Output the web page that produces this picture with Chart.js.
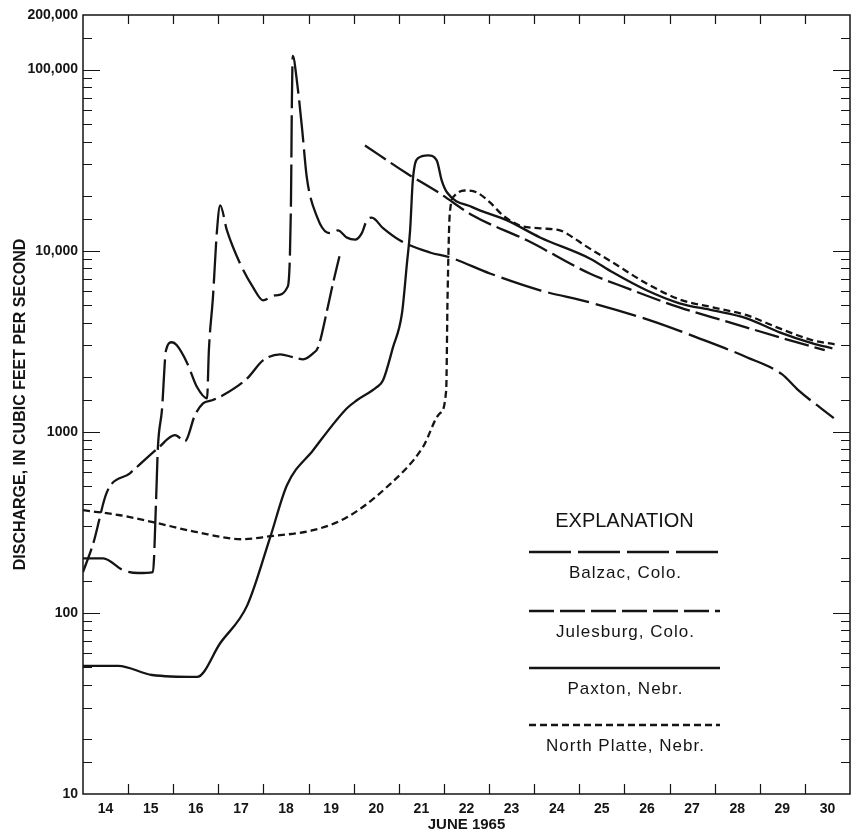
<!DOCTYPE html>
<html>
<head>
<meta charset="utf-8">
<title>Discharge, June 1965</title>
<script src="https://cdn.jsdelivr.net/npm/chart.js@4"></script>
<style>
  body { margin: 0; background: #fff; }
  canvas { display: block; }
</style>
</head>
<body>
<canvas id="dischargeChart" width="851" height="835"></canvas>
<script>
// --- data (day of June 1965, cfs) ---
const balzacDays = [14.00, 14.45, 14.89, 15.22, 15.55, 15.62, 15.66, 15.75, 15.84, 15.97, 16.08, 16.31, 16.53, 16.75, 16.79, 16.88, 16.97, 17.04, 17.19, 17.48, 17.77, 17.99, 18.26, 18.54, 18.61, 18.63, 18.65, 18.74, 18.86, 18.96, 19.19, 19.41, 19.52, 19.65, 19.85, 20.03, 20.18, 20.29, 20.40, 20.65, 21.02, 21.69, 22.13, 23.02, 24.13, 25.23, 26.57, 27.60, 28.71, 29.49, 29.84, 30.64];
const balzacCfs = [200, 200, 172, 166, 168, 420, 820, 1320, 2820, 3120, 3000, 2390, 1760, 1530, 2820, 5520, 12950, 17780, 12950, 8510, 6270, 5320, 5660, 6350, 18900, 67500, 119000, 86900, 46000, 25400, 15300, 12600, 12500, 12950, 11800, 11500, 12500, 14700, 15200, 13300, 11400, 9770, 9180, 7480, 6040, 5180, 4120, 3320, 2580, 2080, 1710, 1190];

const julesburgDays = [14.00, 14.23, 14.53, 15.04, 15.66, 16.04, 16.26, 16.48, 16.66, 16.86, 17.10, 17.64, 17.99, 18.37, 18.66, 18.88, 19.10, 19.21, 19.41, 19.54, 19.70, 19.98, 20.25, 21.18, 21.91, 22.64, 23.84, 25.23, 26.07, 27.22, 28.33, 29.44, 30.44];
const julesburgCfs = [168, 243, 464, 590, 811, 957, 887, 1233, 1435, 1492, 1589, 1972, 2479, 2678, 2577, 2512, 2710, 2924, 4680, 6590, 9660, null, 38100, 26680, 20700, 15630, 11400, 7480, 6190, 4860, 4020, 3320, 2820];

const paxtonDays = [14.00, 14.78, 15.53, 16.53, 17.04, 17.64, 18.15, 18.52, 19.10, 19.85, 20.07, 20.51, 20.65, 20.87, 21.07, 21.18, 21.25, 21.31, 21.42, 21.65, 21.84, 21.95, 22.07, 22.64, 23.40, 24.13, 25.23, 25.74, 26.49, 27.22, 27.96, 28.71, 29.44, 30.17, 30.61];
const paxtonCfs = [51, 51, 45.4, 44.3, 68, 110, 262, 507, 791, 1349, 1492, 1762, 1923, 2924, 4510, 8510, 12950, 24430, 32280, 33570, 31500, 24430, 20940, 17340, 14690, 11830, 9060, 7590, 6040, 5120, 4680, 4230, 3540, 3080, 2890];

const northPlatteDays = [14.00, 14.82, 15.55, 16.53, 17.55, 18.15, 19.10, 19.85, 20.73, 21.53, 21.91, 22.05, 22.08, 22.13, 22.24, 22.46, 22.73, 23.02, 23.31, 23.68, 24.13, 24.57, 24.86, 25.12, 25.74, 26.49, 27.22, 27.96, 28.71, 29.44, 30.17, 30.66];
const northPlatteCfs = [369, 346, 317, 279, 255, 265, 286, 337, 494, 820, 1265, 1694, 5520, 16070, 20180, 21480, 20940, 18450, 15630, 13770, 13280, 12950, 11830, 10690, 8610, 6590, 5380, 4860, 4400, 3720, 3200, 3040];

const stationNames = ['Balzac, Colo.', 'Julesburg, Colo.', 'Paxton, Nebr.', 'North Platte, Nebr.'];

// axis ticks
const dayLabels = ['14', '15', '16', '17', '18', '19', '20', '21', '22', '23', '24', '25', '26', '27', '28', '29', '30'];
const dayBoundaries = [15, 16, 17, 18, 19, 20, 21, 22, 23, 24, 25, 26, 27, 28, 29, 30];
const yTickValues = [10, 100, 1000, 10000, 100000, 200000];
const yTickLabels = ['10', '100', '1000', '10,000', '100,000', '200,000'];
const decades = [10, 100, 1000, 10000, 100000];
const minorSteps = [1.5, 2, 3, 4, 5, 6, 7, 8, 9];

const INK = '#141414';

function toPoints(days, cfs) {
    return days.map((d, i) => ({ x: d, y: cfs[i] }));
}

// inward tick marks and the frame round the plot
const frameTicks = {
    id: 'frameTicks',
    afterDraw(chart) {
        const { ctx, chartArea: a, scales: { x, y } } = chart;
        ctx.save();
        ctx.strokeStyle = INK;
        ctx.lineWidth = 1.5;
        ctx.strokeRect(a.left, a.top, a.right - a.left, a.bottom - a.top);

        ctx.lineWidth = 1.2;
        ctx.beginPath();
        dayBoundaries.forEach(d => {
            const px = Math.round(x.getPixelForValue(d)) + 0.5;
            ctx.moveTo(px, a.bottom); ctx.lineTo(px, a.bottom - 10);
            ctx.moveTo(px, a.top); ctx.lineTo(px, a.top + 9);
        });
        decades.forEach(dec => {
            const py = Math.round(y.getPixelForValue(dec)) + 0.5;
            if (dec > 10) {
                ctx.moveTo(a.left, py); ctx.lineTo(a.left + 17, py);
                ctx.moveTo(a.right, py); ctx.lineTo(a.right - 17, py);
            }
            minorSteps.forEach(m => {
                const v = dec * m;
                if (v >= 200000) return;
                const my = Math.round(y.getPixelForValue(v)) + 0.5;
                ctx.moveTo(a.left, my); ctx.lineTo(a.left + 9, my);
                ctx.moveTo(a.right, my); ctx.lineTo(a.right - 9, my);
            });
        });
        ctx.stroke();
        ctx.restore();
    }
};

// the "EXPLANATION" box in the lower right
const explanation = {
    id: 'explanation',
    afterDraw(chart) {
        const { ctx } = chart;
        const left = 529, right = 720, mid = (left + right) / 2;
        const lineYs = [552, 611, 668, 725];
        ctx.save();
        ctx.fillStyle = INK;
        ctx.strokeStyle = INK;
        ctx.textAlign = 'center';
        ctx.textBaseline = 'middle';
        ctx.font = '20px "Liberation Sans", Arial, sans-serif';
        ctx.fillText('EXPLANATION', mid, 521);

        ctx.font = '17px "Liberation Sans", Arial, sans-serif';
        if ('letterSpacing' in ctx) ctx.letterSpacing = '1px';
        chart.data.datasets.forEach((ds, i) => {
            ctx.lineWidth = ds.borderWidth;
            ctx.setLineDash(ds.borderDash || []);
            ctx.beginPath();
            ctx.moveTo(left, lineYs[i]);
            ctx.lineTo(right, lineYs[i]);
            ctx.stroke();
            ctx.setLineDash([]);
            ctx.fillText(ds.label, mid + 1, lineYs[i] + 21);
        });
        ctx.restore();
    }
};

const ctx = document.getElementById('dischargeChart').getContext('2d');
const dischargeChart = new Chart(ctx, {
    type: 'line',
    data: {
        datasets: [
            { label: stationNames[0], data: toPoints(balzacDays, balzacCfs), borderDash: [42, 7] },
            { label: stationNames[1], data: toPoints(julesburgDays, julesburgCfs), borderDash: [25, 6] },
            { label: stationNames[2], data: toPoints(paxtonDays, paxtonCfs), borderDash: [] },
            { label: stationNames[3], data: toPoints(northPlatteDays, northPlatteCfs), borderDash: [7, 4] }
        ].map(ds => Object.assign(ds, {
            borderColor: INK,
            borderWidth: 2.3,
            pointRadius: 0,
            fill: false,
            spanGaps: false,
            cubicInterpolationMode: 'monotone'
        }))
    },
    options: {
        responsive: false,
        devicePixelRatio: 1,
        animation: false,
        layout: { padding: { top: 15, right: 1, left: 0, bottom: 0 } },
        scales: {
            x: {
                type: 'linear',
                min: 14,
                max: 31,
                grid: { display: false, drawTicks: false },
                border: { display: false },
                afterBuildTicks: scale => {
                    scale.ticks = dayLabels.map((l, i) => ({ value: 14.5 + i }));
                },
                afterFit: scale => { scale.height = 41; },
                ticks: {
                    autoSkip: false,
                    maxRotation: 0,
                    padding: 7,
                    color: INK,
                    font: { family: '"Liberation Sans", Arial, sans-serif', size: 14, weight: 'bold' },
                    callback: (value, index) => dayLabels[index]
                },
                title: {
                    display: true,
                    text: 'JUNE 1965',
                    color: INK,
                    padding: { top: 0, bottom: 1 },
                    font: { family: '"Liberation Sans", Arial, sans-serif', size: 15, weight: 'bold' }
                }
            },
            y: {
                type: 'logarithmic',
                min: 10,
                max: 200000,
                grid: { display: false, drawTicks: false },
                border: { display: false },
                afterBuildTicks: scale => {
                    scale.ticks = yTickValues.map(v => ({ value: v }));
                },
                afterFit: scale => { scale.width = 83; },
                ticks: {
                    autoSkip: false,
                    padding: 5,
                    color: INK,
                    font: { family: '"Liberation Sans", Arial, sans-serif', size: 14, weight: 'bold' },
                    callback: (value, index) => yTickLabels[index]
                },
                title: {
                    display: true,
                    text: 'DISCHARGE, IN CUBIC FEET PER SECOND',
                    color: INK,
                    padding: { top: 11, bottom: 0 },
                    font: { family: '"Liberation Sans Narrow", "Liberation Sans", Arial, sans-serif', size: 16, weight: 'bold' }
                }
            }
        },
        plugins: {
            legend: { display: false },
            tooltip: { enabled: false }
        }
    },
    plugins: [frameTicks, explanation]
});
</script>
</body>
</html>
